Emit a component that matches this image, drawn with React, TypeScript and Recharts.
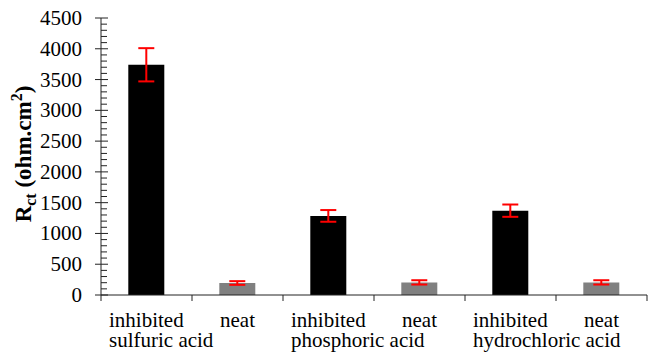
import { Bar, BarChart, Cell, ErrorBar, XAxis, YAxis } from "recharts";

const categories = ["inhibited", "neat", "inhibited", "neat", "inhibited", "neat"];
const acidNames = ["sulfuric acid", "phosphoric acid", "hydrochloric acid"];
const rctValues = [3740, 195, 1285, 205, 1370, 205];
const rctErrors = [270, 30, 95, 35, 100, 35];
const barColors = ["#000000", "#808080", "#000000", "#808080", "#000000", "#808080"];
const yMajorTicks = [0, 500, 1000, 1500, 2000, 2500, 3000, 3500, 4000, 4500];
const yMinorStep = 100;

const FONT = '"Liberation Serif", "Times New Roman", serif';
const HALF_BAND = 45.5;

const data = categories.map((name, i) => ({
  key: `${name}-${i}`,
  name,
  rct: rctValues[i],
  err: rctErrors[i],
}));

const yTicks: number[] = [];
for (let v = 0; v <= yMajorTicks[yMajorTicks.length - 1]; v += yMinorStep) {
  yTicks.push(v);
}

function YTick({ x, y, payload }: { x?: number; y?: number; payload?: { value: number } }) {
  if (x == null || y == null || !payload) return null;
  const major = yMajorTicks.includes(payload.value);
  return (
    <g>
      {major ? (
        <line x1={x - 6} x2={x + 7} y1={y} y2={y} stroke="#222" />
      ) : (
        <line x1={x} x2={x + 6} y1={y} y2={y} stroke="#222" />
      )}
      {major && (
        <text x={x - 19} y={y} dy={7} textAnchor="end" fontFamily={FONT} fontSize={21} fill="#000">
          {payload.value}
        </text>
      )}
    </g>
  );
}

function XTick({ x, y, index }: { x?: number; y?: number; index?: number }) {
  if (x == null || y == null || index == null) return null;
  const inhibited = index % 2 === 0;
  return (
    <g>
      <line x1={x - HALF_BAND} x2={x - HALF_BAND} y1={y} y2={y + 6} stroke="#222" />
      {index === categories.length - 1 && (
        <line x1={x + HALF_BAND} x2={x + HALF_BAND} y1={y} y2={y + 6} stroke="#222" />
      )}
      {inhibited ? (
        <g>
          <text x={x - 37.5} y={y + 32} textAnchor="start" fontFamily={FONT} fontSize={21} fill="#000">
            {categories[index]}
          </text>
          <text x={x - 37.5} y={y + 52} textAnchor="start" fontFamily={FONT} fontSize={21} fill="#000">
            {acidNames[index / 2]}
          </text>
        </g>
      ) : (
        <text x={x} y={y + 32} textAnchor="middle" fontFamily={FONT} fontSize={21} fill="#000">
          {categories[index]}
        </text>
      )}
    </g>
  );
}

function YLabel() {
  const cx = 31;
  const cy = 154;
  return (
    <text
      x={cx}
      y={cy}
      transform={`rotate(-90, ${cx}, ${cy})`}
      textAnchor="middle"
      fontFamily={FONT}
      fontWeight="bold"
      fontSize={23}
      fill="#000"
    >
      R
      <tspan fontSize={16} dy={5}>
        ct
      </tspan>
      <tspan dy={-5}> (ohm.cm</tspan>
      <tspan fontSize={16} dy={-9}>
        2
      </tspan>
      <tspan dy={9}>)</tspan>
    </text>
  );
}

export default function App() {
  return (
    <div style={{ position: "absolute", left: 0, top: 0, background: "#fff" }}>
      <BarChart
        width={649}
        height={352}
        data={data}
        margin={{ top: 18, right: 2, bottom: 0, left: 0 }}
        barCategoryGap="30%"
      >
        <XAxis
          dataKey="key"
          height={57}
          interval={0}
          tickLine={false}
          tickSize={0}
          tickMargin={0}
          axisLine={{ stroke: "#222" }}
          tick={<XTick />}
        />
        <YAxis
          width={101}
          domain={[0, 4500]}
          ticks={yTicks}
          interval={0}
          tickLine={false}
          tickSize={0}
          tickMargin={0}
          axisLine={{ stroke: "#222" }}
          tick={<YTick />}
          label={{ content: () => <YLabel /> }}
        />
        <Bar dataKey="rct" isAnimationActive={false}>
          {data.map((d, i) => (
            <Cell key={d.key} fill={barColors[i]} />
          ))}
          <ErrorBar dataKey="err" width={8} strokeWidth={2} stroke="#ff0000" direction="y" isAnimationActive={false} />
        </Bar>
      </BarChart>
    </div>
  );
}
